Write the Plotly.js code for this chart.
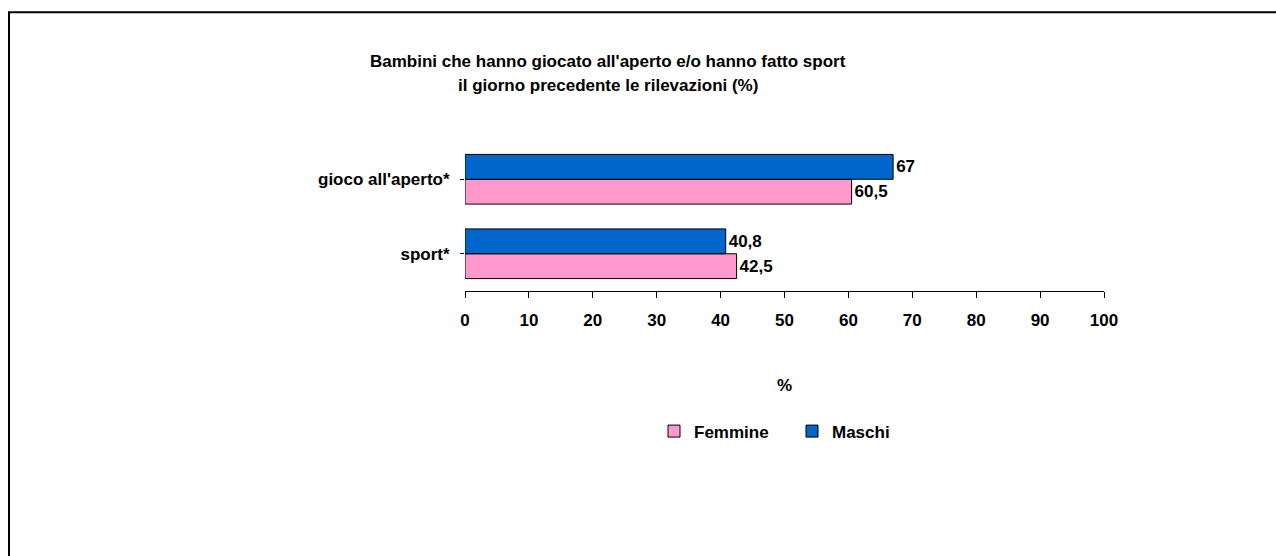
<!DOCTYPE html>
<html>
<head>
<meta charset="utf-8">
<script src="https://cdn.plot.ly/plotly-3.0.1.min.js"></script>
<style>
html,body{margin:0;padding:0;background:#fff;}
#chart{width:1276px;height:556px;}
</style>
</head>
<body>
<div id="chart"></div>
<script>
// Data
var categories = ["sport*", "gioco all'aperto*"];
var femmine = [42.5, 60.5];
var maschi = [40.8, 67];
var seriesNames = ["Femmine", "Maschi"];
var xTickVals = [0, 10, 20, 30, 40, 50, 60, 70, 80, 90, 100];
var titleLines = ["Bambini che hanno giocato all'aperto e/o hanno fatto sport", "il giorno precedente le rilevazioni (%)"];
var axisTitle = "%";

function fmt(v) { return String(v).replace('.', ','); }

var FONT = "'Liberation Sans', Arial, sans-serif";

// layout geometry (pixels)
var W = 1276, H = 556;
var L = 465, R = 1104, T = 141.5, B = 291.5;
function px(x) { return (x - L) / (R - L); }
function py(y) { return (B - y) / (B - T); }

var traces = [
  {
    type: 'bar', orientation: 'h', name: seriesNames[0],
    y: categories, x: femmine,
    text: femmine.map(fmt), textposition: 'outside', cliponaxis: false,
    textfont: {family: FONT, size: 17, color: '#000', weight: 'bold'},
    marker: {color: '#FF99CC', line: {color: '#000', width: 1}},
    hoverinfo: 'x+y'
  },
  {
    type: 'bar', orientation: 'h', name: seriesNames[1],
    y: categories, x: maschi,
    text: maschi.map(fmt), textposition: 'outside', cliponaxis: false,
    textfont: {family: FONT, size: 17, color: '#000', weight: 'bold'},
    marker: {color: '#0066CC', line: {color: '#000', width: 1}},
    hoverinfo: 'x+y'
  }
];

var layout = {
  width: W, height: H,
  margin: {l: L, r: W - R, t: T, b: H - B, pad: 0},
  paper_bgcolor: '#fff', plot_bgcolor: 'rgba(0,0,0,0)',
  font: {family: FONT, color: '#000', size: 17, weight: 'bold'},
  barmode: 'group', bargap: 1/3, bargroupgap: 0,
  showlegend: true,
  legend: {
    orientation: 'h', x: px(654), xanchor: 'left', y: py(433), yanchor: 'middle',
    font: {family: FONT, size: 17, color: '#000', weight: 'bold'},
    entrywidth: 93, traceorder: 'normal', bgcolor: 'rgba(0,0,0,0)'
  },
  xaxis: {
    range: [0, 100], tickvals: xTickVals, ticktext: xTickVals.map(String),
    showgrid: false, zeroline: false, showline: true, linecolor: '#000', linewidth: 1,
    ticks: 'outside', ticklen: 6, tickcolor: '#000', tickwidth: 1,
    ticklabelstandoff: 8,
    tickfont: {family: FONT, size: 17, color: '#000', weight: 'bold'},
    title: {text: axisTitle, standoff: 49, font: {family: FONT, size: 17, color: '#000', weight: 'bold'}},
    fixedrange: true
  },
  yaxis: {
    type: 'category', categoryorder: 'array', categoryarray: categories,
    range: [-0.5, 1.5],
    showgrid: false, zeroline: false, showline: false,
    ticks: 'outside', ticklen: 4, tickcolor: '#000',
    ticklabelstandoff: 7,
    tickfont: {family: FONT, size: 17, color: '#000', weight: 'bold'},
    fixedrange: true
  },
  annotations: [
    {xref: 'paper', yref: 'paper', x: px(608), y: py(60), xanchor: 'center', yanchor: 'middle',
     text: titleLines[0], showarrow: false, font: {family: FONT, size: 17, color: '#000', weight: 'bold'}},
    {xref: 'paper', yref: 'paper', x: px(608), y: py(85), xanchor: 'center', yanchor: 'middle',
     text: titleLines[1], showarrow: false, font: {family: FONT, size: 17, color: '#000', weight: 'bold'}}
  ],
  shapes: [
    {type: 'path', xref: 'paper', yref: 'paper', layer: 'above',
     path: 'M ' + px(9) + ',' + py(600) + ' L ' + px(9) + ',' + py(11) + ' L ' + px(1300) + ',' + py(11),
     line: {color: '#000', width: 2}}
  ]
};

Plotly.newPlot('chart', traces, layout, {displayModeBar: false});
</script>
</body>
</html>
